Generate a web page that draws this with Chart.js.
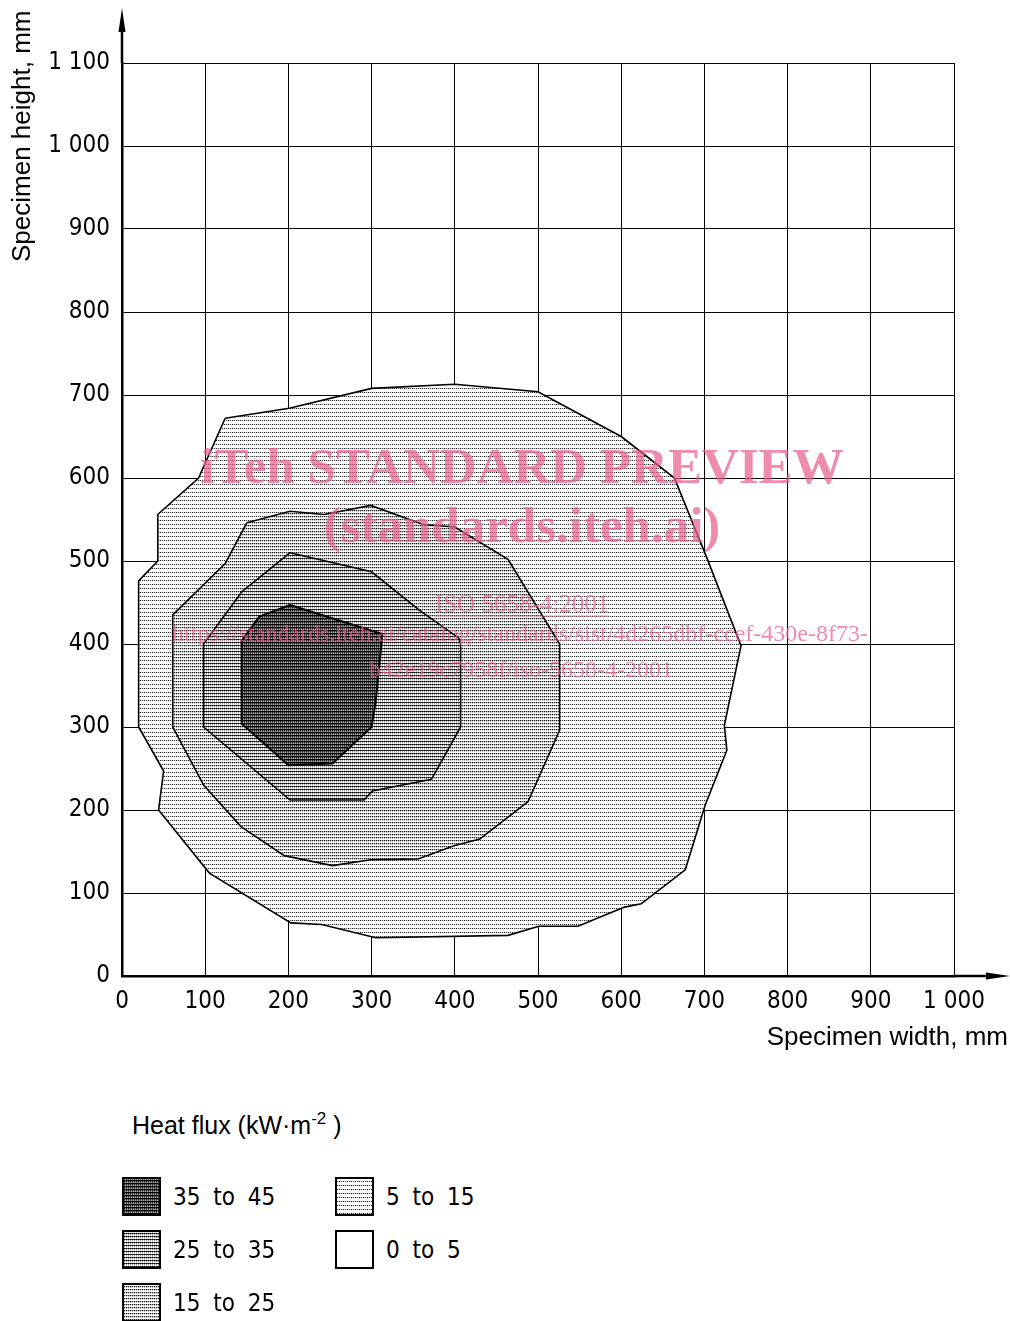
<!DOCTYPE html>
<html>
<head>
<meta charset="utf-8">
<script src="https://cdn.jsdelivr.net/npm/chart.js@4.4.1/dist/chart.umd.min.js"></script>
<style>
  body { margin: 0; background: #fff; width: 1010px; height: 1321px; overflow: hidden; position: relative; }
  #grafico { position: absolute; left: 0; top: 0; }
  .titulo { position: absolute; left: 132px; top: 1111px; font: 25px "Liberation Sans", Arial, sans-serif; color: #000; }
  .titulo sup { font-size: 17px; vertical-align: 10px; line-height: 0; }
  .item { position: absolute; height: 39px; display: flex; align-items: center; font: 24px "DejaVu Sans Condensed", "DejaVu Sans", sans-serif; word-spacing: 6px; color: #000; }
  .item canvas { margin-right: 12px; }
</style>
</head>
<body>
<canvas id="grafico" width="1010" height="1060"></canvas>
<div class="titulo">Heat flux (kW·m<sup>-2</sup> )</div>
<div id="legenda"></div>
<script>
// categorias / faixas de fluxo de calor
const faixas = ['35 to 45', '25 to 35', '15 to 25', '5 to 15', '0 to 5'];
const xTicks = [0, 100, 200, 300, 400, 500, 600, 700, 800, 900, 1000];
const yTicks = [0, 100, 200, 300, 400, 500, 600, 700, 800, 900, 1000, 1100];

// contornos [largura mm, altura mm]
const contorno35a45 = [[202, 447], [165, 433], [144, 404], [144, 304], [200, 254], [253, 256], [300, 300], [305, 331], [313, 412], [202, 447]];
const contorno25a35 = [[202, 510], [300, 487], [357, 441], [405, 407], [407, 400], [407, 300], [372, 237], [301, 223], [291, 212], [202, 212], [98, 300], [98, 400], [144, 463], [202, 510]];
const contorno15a25 = [[150, 546], [202, 560], [243, 556], [299, 567], [362, 544], [400, 541], [464, 502], [526, 400], [526, 296], [488, 210], [430, 165], [399, 157], [356, 141], [299, 140], [253, 133], [195, 145], [143, 180], [98, 230], [61, 300], [61, 435], [124, 497], [150, 546]];
const contorno5a15 = [[124, 672], [201, 684], [300, 708], [400, 713], [500, 704], [600, 650], [664, 600], [704, 501], [744, 398], [724, 302], [727, 272], [701, 206], [677, 128], [624, 87], [604, 83], [548, 60], [501, 60], [464, 49], [305, 46], [240, 62], [203, 64], [105, 124], [44, 200], [50, 247], [20, 300], [20, 476], [43, 500], [43, 556], [92, 600], [124, 672]];

function criarPadrao(linhas) {
  const c = document.createElement('canvas');
  c.width = linhas[0].length;
  c.height = linhas.length;
  const ctx = c.getContext('2d');
  linhas.forEach(function (linha, y) {
    linha.forEach(function (cor, x) {
      ctx.fillStyle = cor;
      ctx.fillRect(x, y, 1, 1);
    });
  });
  return c;
}

const W = '#ffffff';
const tiles = [
  [['#000', '#000'], ['#222', '#777'], ['#555', '#aaa']],
  [['#000', '#444', '#000', '#444'], ['#999', W, '#999', W], ['#ccc', W, '#ccc', W]],
  [['#111', '#aaa', '#333', '#aaa'], ['#bbb', W, '#bbb', W], [W, W, W, W]],
  [['#222', '#ccc', '#555', '#ccc'], [W, W, W, W], [W, W, W, W], [W, W, W, W]],
  [[W]]
];

const ctxPrincipal = document.getElementById('grafico').getContext('2d');
const padroes = tiles.map(function (t) {
  return ctxPrincipal.createPattern(criarPadrao(t), 'repeat');
});

function formatar(v) {
  if (v >= 1000) return Math.floor(v / 1000) + ' ' + String(v % 1000).padStart(3, '0');
  return String(v);
}

function pontos(lista) {
  return lista.map(function (p) { return { x: p[0], y: p[1] }; });
}

const contornos = [contorno35a45, contorno25a35, contorno15a25, contorno5a15];
const fonteTicks = { family: '"DejaVu Sans Condensed", "DejaVu Sans", sans-serif', size: 24 };

const extras = {
  id: 'extras',
  afterDraw: function (chart) {
    const ctx = chart.ctx;
    const a = chart.chartArea;
    ctx.save();
    // setas dos eixos
    ctx.strokeStyle = '#000';
    ctx.fillStyle = '#000';
    ctx.lineWidth = 2.5;
    ctx.beginPath();
    ctx.moveTo(a.right, a.bottom);
    ctx.lineTo(a.right + 40, a.bottom);
    ctx.moveTo(a.left, a.top);
    ctx.lineTo(a.left, a.top - 40);
    ctx.stroke();
    ctx.beginPath();
    ctx.moveTo(a.right + 56, a.bottom);
    ctx.lineTo(a.right + 32, a.bottom - 3.5);
    ctx.lineTo(a.right + 32, a.bottom + 3.5);
    ctx.closePath();
    ctx.fill();
    ctx.beginPath();
    ctx.moveTo(a.left, a.top - 55);
    ctx.lineTo(a.left - 3.5, a.top - 31);
    ctx.lineTo(a.left + 3.5, a.top - 31);
    ctx.closePath();
    ctx.fill();

    // títulos dos eixos
    ctx.font = '26px "Liberation Sans", Arial, sans-serif';
    ctx.textAlign = 'right';
    ctx.textBaseline = 'alphabetic';
    ctx.fillText('Specimen width, mm', a.right + 54, a.bottom + 69);
    ctx.save();
    ctx.translate(30, 262);
    ctx.rotate(-Math.PI / 2);
    ctx.textAlign = 'left';
    ctx.font = '26px "Liberation Sans", Arial, sans-serif';
    ctx.fillText('Specimen height, mm', 0, 0);
    ctx.restore();

    // marca d'água
    ctx.fillStyle = 'rgba(232, 96, 140, 0.72)';
    ctx.strokeStyle = 'rgba(232, 96, 140, 0.72)';
    ctx.textAlign = 'center';
    ctx.font = 'bold 51px "Liberation Serif", serif';
    ctx.fillText('iTeh STANDARD PREVIEW', 522, 483);
    ctx.fillText('(standards.iteh.ai)', 522, 542);
    ctx.font = '25px "Liberation Serif", serif';
    ctx.fillText('ISO 5658-4:2001', 522, 612);
    const lw = ctx.measureText('ISO 5658-4:2001').width;
    ctx.lineWidth = 1.2;
    ctx.beginPath();
    ctx.moveTo(522 - lw / 2, 616);
    ctx.lineTo(522 + lw / 2, 616);
    ctx.stroke();
    ctx.font = '24px "Liberation Serif", serif';
    ctx.fillText('https://standards.iteh.ai/catalog/standards/sist/4d265dbf-ccef-430e-8f73-', 520, 641);
    ctx.fillText('b42e19c7958f/iso-5658-4-2001', 521, 677);
    ctx.restore();
  }
};

new Chart(ctxPrincipal, {
  type: 'line',
  data: {
    datasets: contornos.map(function (c, i) {
      return {
        label: faixas[i],
        data: pontos(c),
        order: i,
        fill: 'shape',
        backgroundColor: padroes[i],
        borderColor: '#000',
        borderWidth: i === 0 ? 2 : 1.6,
        tension: 0,
        pointRadius: 0
      };
    })
  },
  options: {
    responsive: false,
    animation: false,
    events: [],
    layout: { padding: { left: 0, top: 63, right: 56, bottom: 0 } },
    plugins: { legend: { display: false }, tooltip: { enabled: false } },
    scales: {
      x: {
        type: 'linear',
        min: 0,
        max: 1000,
        afterBuildTicks: function (s) { s.ticks = xTicks.map(function (v) { return { value: v }; }); },
        afterFit: function (s) { s.height = 84; },
        grid: { color: '#000', lineWidth: 1, drawTicks: false },
        border: { color: '#000', width: 2.5 },
        ticks: { color: '#000', font: fonteTicks, padding: 11, maxRotation: 0, autoSkip: false, callback: formatar }
      },
      y: {
        type: 'linear',
        min: 0,
        max: 1100,
        afterBuildTicks: function (s) { s.ticks = yTicks.map(function (v) { return { value: v }; }); },
        afterFit: function (s) { s.width = 122; },
        grid: { color: '#000', lineWidth: 1, drawTicks: false },
        border: { color: '#000', width: 2.5 },
        ticks: { color: '#000', font: fonteTicks, padding: 12, autoSkip: false, callback: formatar }
      }
    }
  },
  plugins: [extras]
});

// legenda em duas colunas
const posicoes = [[122, 1177], [122, 1230], [122, 1283], [335, 1177], [335, 1230]];
const legenda = document.getElementById('legenda');
faixas.forEach(function (f, i) {
  const item = document.createElement('div');
  item.className = 'item';
  item.style.left = posicoes[i][0] + 'px';
  item.style.top = posicoes[i][1] + 'px';
  const caixa = document.createElement('canvas');
  caixa.width = 39;
  caixa.height = 39;
  const cx = caixa.getContext('2d');
  cx.fillStyle = cx.createPattern(criarPadrao(tiles[i]), 'repeat');
  cx.fillRect(0, 0, 39, 39);
  cx.strokeStyle = '#000';
  cx.lineWidth = 2;
  cx.strokeRect(1, 1, 37, 37);
  item.appendChild(caixa);
  item.appendChild(document.createTextNode(f));
  legenda.appendChild(item);
});
</script>
</body>
</html>
